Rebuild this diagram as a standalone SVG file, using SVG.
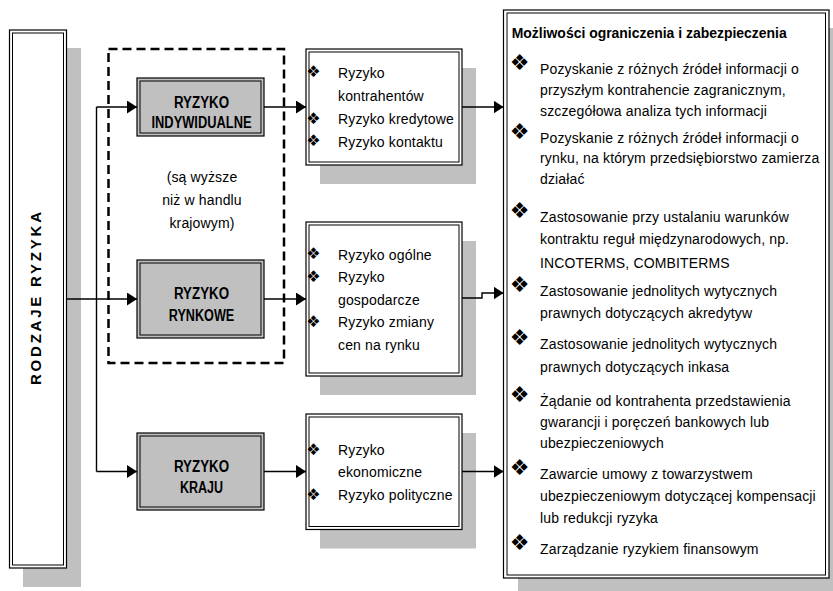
<svg xmlns="http://www.w3.org/2000/svg" width="833" height="591" viewBox="0 0 833 591">
<style>
.t{font-family:"Liberation Sans",Arial,sans-serif;font-size:14px;fill:#000;letter-spacing:0.15px}
.h{font-family:"Liberation Sans",Arial,sans-serif;font-weight:bold;fill:#000}
.bl{font-family:"DejaVu Sans",sans-serif;fill:#000;text-anchor:middle}
.sh{fill:#c0c0c0}
.ob{fill:#fff;stroke:#000;stroke-width:1.2}
.gb{fill:#c0c0c0;stroke:#000;stroke-width:1.2}
.ib{fill:none;stroke:#000;stroke-width:1}
.c{fill:none;stroke:#000;stroke-width:1.4}
</style>
<defs>
<marker id="arr" markerUnits="userSpaceOnUse" markerWidth="11" markerHeight="13" refX="10" refY="6.5" orient="auto"><path d="M0,0 L10,6.5 L0,13 z" fill="#000"/></marker>
</defs>
<rect width="833" height="591" fill="#fff"/>

<g id="group-dashed">
<rect x="108.5" y="49" width="175.5" height="314" fill="none" stroke="#000" stroke-width="2.5" stroke-dasharray="9 5"/>
<text class="t" x="202" y="181.5" text-anchor="middle" letter-spacing="0.6">(są wyższe</text>
<text class="t" x="202" y="205" text-anchor="middle" letter-spacing="0.6">niż w handlu</text>
<text class="t" x="202" y="228" text-anchor="middle" letter-spacing="0.6">krajowym)</text>
</g>

<g id="node-rodzaje">
<rect class="sh" x="23" y="48" width="58" height="539"/>
<rect class="ob" x="9.5" y="30" width="57" height="538"/>
<rect class="ib" x="12.5" y="33" width="51" height="532"/>
<text class="h" font-size="15" transform="translate(40.5,298.5) rotate(-90)" text-anchor="middle" textLength="173" lengthAdjust="spacing">RODZAJE  RYZYKA</text>
</g>

<g id="node-indywidualne">
<rect class="gb" x="137" y="78" width="127" height="58"/>
<rect class="ib" x="140" y="81" width="121" height="52"/>
<text class="h" font-size="16" x="201.5" y="107.7" text-anchor="middle" textLength="55" lengthAdjust="spacingAndGlyphs">RYZYKO</text>
<text class="h" font-size="16" x="201.5" y="127.7" text-anchor="middle" textLength="100" lengthAdjust="spacingAndGlyphs">INDYWIDUALNE</text>
</g>

<g id="node-rynkowe">
<rect class="gb" x="137" y="260" width="127" height="78"/>
<rect class="ib" x="140" y="263" width="121" height="72"/>
<text class="h" font-size="16" x="201.5" y="298.5" text-anchor="middle" textLength="55" lengthAdjust="spacingAndGlyphs">RYZYKO</text>
<text class="h" font-size="16" x="201.5" y="320.7" text-anchor="middle" textLength="65.5" lengthAdjust="spacingAndGlyphs">RYNKOWE</text>
</g>

<g id="node-kraju">
<rect class="gb" x="137" y="433" width="127" height="77"/>
<rect class="ib" x="140" y="436" width="121" height="71"/>
<text class="h" font-size="16" x="201.5" y="471.7" text-anchor="middle" textLength="55" lengthAdjust="spacingAndGlyphs">RYZYKO</text>
<text class="h" font-size="16" x="201.5" y="492.7" text-anchor="middle" textLength="43" lengthAdjust="spacingAndGlyphs">KRAJU</text>
</g>

<g id="node-list1">
<rect class="sh" x="320" y="68" width="156" height="116"/>
<rect class="ob" x="306" y="49" width="156" height="116"/>
<rect class="ib" x="309" y="52" width="150" height="110"/>
<g class="bl" font-size="16">
<text x="313.5" y="77">❖</text>
<text x="313.5" y="123.5">❖</text>
<text x="313.5" y="146">❖</text>
</g>
<text class="t" x="338" y="77.7">Ryzyko</text>
<text class="t" x="338" y="101">kontrahentów</text>
<text class="t" x="338" y="124">Ryzyko kredytowe</text>
<text class="t" x="338" y="146.7">Ryzyko kontaktu</text>
</g>

<g id="node-list2">
<rect class="sh" x="320" y="241" width="156" height="154"/>
<rect class="ob" x="306" y="222" width="156" height="154"/>
<rect class="ib" x="309" y="225" width="150" height="148"/>
<g class="bl" font-size="16">
<text x="313.5" y="259">❖</text>
<text x="313.5" y="281.5">❖</text>
<text x="313.5" y="326.5">❖</text>
</g>
<text class="t" x="338" y="259.5">Ryzyko ogólne</text>
<text class="t" x="338" y="282">Ryzyko</text>
<text class="t" x="338" y="304.5">gospodarcze</text>
<text class="t" x="338" y="327">Ryzyko zmiany</text>
<text class="t" x="338" y="350">cen na rynku</text>
</g>

<g id="node-list3">
<rect class="sh" x="320" y="433" width="156" height="115.5"/>
<rect class="ob" x="306" y="414" width="156" height="115.5"/>
<rect class="ib" x="309" y="417" width="150" height="109.5"/>
<g class="bl" font-size="16">
<text x="313.5" y="454.5">❖</text>
<text x="313.5" y="499.5">❖</text>
</g>
<text class="t" x="338" y="455">Ryzyko</text>
<text class="t" x="338" y="477.3">ekonomiczne</text>
<text class="t" x="338" y="500">Ryzyko polityczne</text>
</g>

<g id="node-mozliwosci">
<rect class="sh" x="518" y="28" width="326" height="565"/>
<rect class="ob" x="503.5" y="10" width="325.5" height="568"/>
<rect class="ib" x="507" y="13" width="318.5" height="562"/>
<text class="h" font-size="14" x="511.7" y="38" textLength="275" lengthAdjust="spacingAndGlyphs">Możliwości ograniczenia i zabezpieczenia</text>
<g class="bl" font-size="22">
<text x="519.5" y="70">❖</text>
<text x="519.5" y="138.5">❖</text>
<text x="519.5" y="218">❖</text>
<text x="519.5" y="292">❖</text>
<text x="519.5" y="345">❖</text>
<text x="519.5" y="401.5">❖</text>
<text x="519.5" y="475">❖</text>
<text x="519.5" y="550">❖</text>
</g>
<g class="t">
<text x="540" y="74">Pozyskanie z różnych źródeł informacji o</text>
<text x="540" y="95">przyszłym kontrahencie zagranicznym,</text>
<text x="540" y="116">szczegółowa analiza tych informacji</text>
<text x="540" y="142.7">Pozyskanie z różnych źródeł informacji o</text>
<text x="540" y="163.3">rynku, na którym przedsiębiorstwo zamierza</text>
<text x="540" y="184.3">działać</text>
<text x="540" y="222.3">Zastosowanie przy ustalaniu warunków</text>
<text x="540" y="244.3">kontraktu reguł międzynarodowych, np.</text>
<text x="540" y="267.7">INCOTERMS, COMBITERMS</text>
<text x="540" y="296">Zastosowanie jednolitych wytycznych</text>
<text x="540" y="317.7">prawnych dotyczących akredytyw</text>
<text x="540" y="349.3">Zastosowanie jednolitych wytycznych</text>
<text x="540" y="371.7">prawnych dotyczących inkasa</text>
<text x="540" y="405.7">Żądanie od kontrahenta przedstawienia</text>
<text x="540" y="427.3">gwarancji i poręczeń bankowych lub</text>
<text x="540" y="448.3">ubezpieczeniowych</text>
<text x="540" y="479.3">Zawarcie umowy z towarzystwem</text>
<text x="540" y="500.7">ubezpieczeniowym dotyczącej kompensacji</text>
<text x="540" y="522.7">lub redukcji ryzyka</text>
<text x="540" y="554">Zarządzanie ryzykiem finansowym</text>
</g>
</g>

<g id="connectors">
<path class="c" d="M96.5,107 V471.5"/>
<path class="c" d="M96.5,107 H137" marker-end="url(#arr)"/>
<path class="c" d="M67,299 H137" marker-end="url(#arr)"/>
<path class="c" d="M96.5,471.5 H137" marker-end="url(#arr)"/>
<path class="c" d="M264,107 H306" marker-end="url(#arr)"/>
<path class="c" d="M264,299 H306" marker-end="url(#arr)"/>
<path class="c" d="M264,471.5 H306" marker-end="url(#arr)"/>
<path class="c" d="M462,107 H503.5" marker-end="url(#arr)"/>
<path class="c" d="M462,298 H482 V293 H503.5" marker-end="url(#arr)"/>
<path class="c" d="M462,471.5 H503.5" marker-end="url(#arr)"/>
</g>
</svg>
